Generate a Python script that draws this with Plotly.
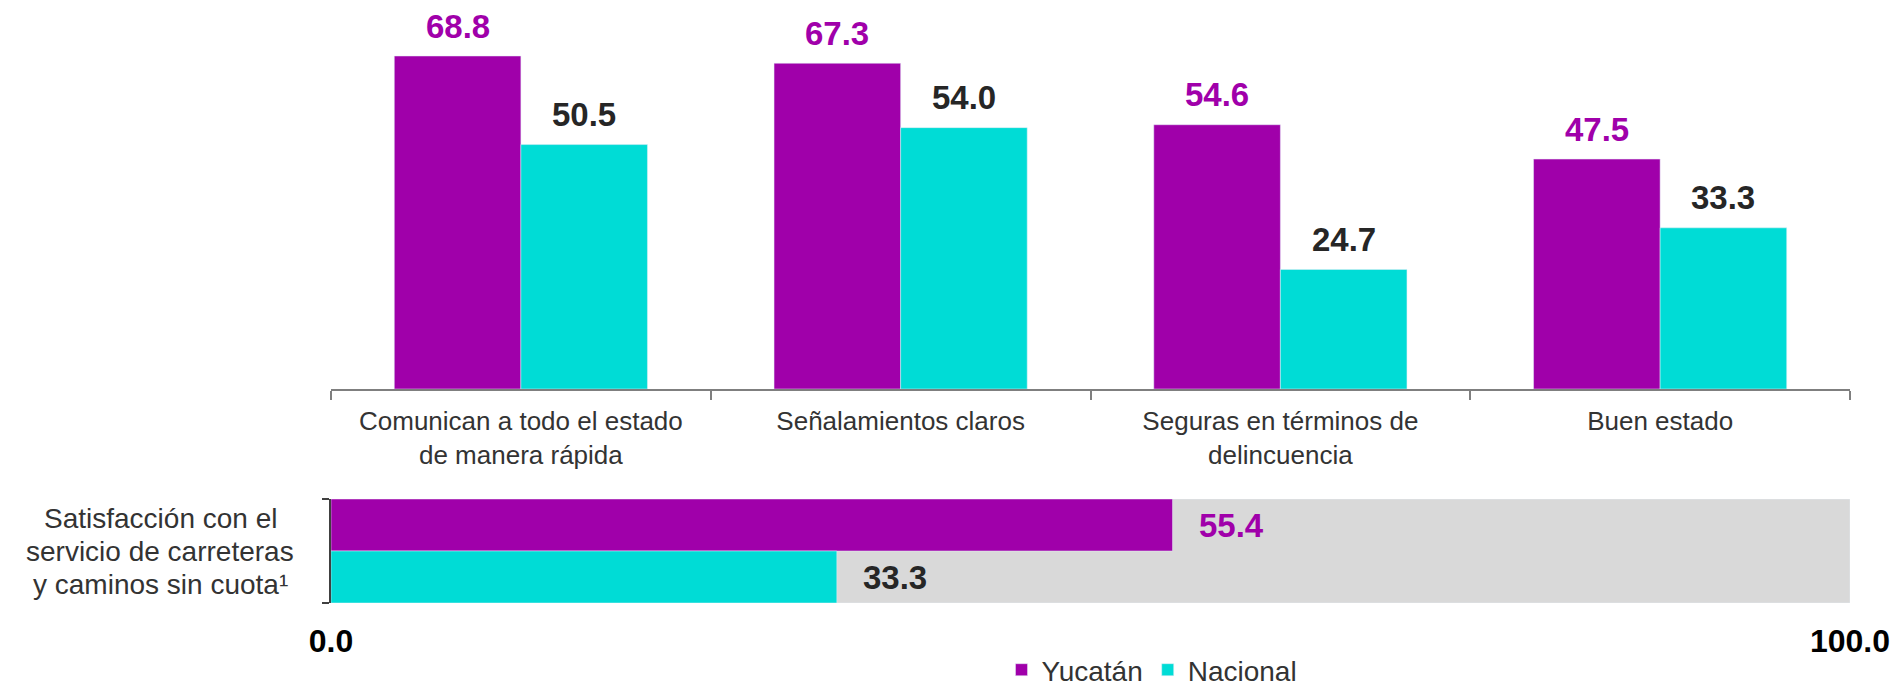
import plotly.graph_objects as go

# ---- data ----
categories = [
    "Comunican a todo el estado<br>de manera rápida",
    "Señalamientos claros",
    "Seguras en términos de<br>delincuencia",
    "Buen estado",
]
yucatan = [68.8, 67.3, 54.6, 47.5]
nacional = [50.5, 54.0, 24.7, 33.3]

sat_category = ["Satisfacción con el<br>servicio de carreteras<br>y caminos sin cuota¹"]
sat_yucatan = [55.4]
sat_nacional = [33.3]
sat_total = [100.0]
sat_ticks = [0, 100]
sat_ticktext = ["0.0", "100.0"]

series_names = ["Yucatán", "Nacional"]

PURPLE = "#A000AA"
CYAN = "#00DCD6"
GREY = "#D9D9D9"
DARK = "#262626"
TXT = "#333333"
FONT = "Liberation Sans, Arial, sans-serif"

# page body has an 8px margin: figure is placed at (8, 8)
OFF = 8
W, H = 1902 - OFF, 689 - OFF


def px_x(x):
    return (x - OFF) / W


def px_y(y):
    return (H - (y - OFF)) / H


fig = go.Figure()

# top grouped bars
fig.add_trace(go.Bar(x=categories, y=yucatan, name=series_names[0], marker_color=PURPLE,
                     offset=-1/3, width=1/3, xaxis="x", yaxis="y", hoverinfo="skip"))
fig.add_trace(go.Bar(x=categories, y=nacional, name=series_names[1], marker_color=CYAN,
                     offset=0, width=1/3, xaxis="x", yaxis="y", hoverinfo="skip"))

# bottom horizontal bars
fig.add_trace(go.Bar(y=sat_category, x=sat_total, orientation="h", marker_color=GREY,
                     offset=-0.5, width=1, xaxis="x2", yaxis="y2", showlegend=False, hoverinfo="skip"))
fig.add_trace(go.Bar(y=sat_category, x=sat_yucatan, orientation="h", marker_color=PURPLE,
                     offset=0, width=0.5, xaxis="x2", yaxis="y2", showlegend=False, hoverinfo="skip"))
fig.add_trace(go.Bar(y=sat_category, x=sat_nacional, orientation="h", marker_color=CYAN,
                     offset=-0.5, width=0.5, xaxis="x2", yaxis="y2", showlegend=False, hoverinfo="skip"))

annotations = []
for i, (yv, nv) in enumerate(zip(yucatan, nacional)):
    annotations.append(dict(x=i - 1/6, y=yv, xref="x", yref="y", text=f"{yv:.1f}",
                            showarrow=False, yanchor="middle", yshift=30,
                            font=dict(family=FONT, size=33, color=PURPLE, weight="bold")))
    annotations.append(dict(x=i + 1/6, y=nv, xref="x", yref="y", text=f"{nv:.1f}",
                            showarrow=False, yanchor="middle", yshift=30,
                            font=dict(family=FONT, size=33, color=DARK, weight="bold")))

annotations.append(dict(x=sat_yucatan[0], y=0.25, xref="x2", yref="y2", text=f"{sat_yucatan[0]:.1f}",
                        showarrow=False, xanchor="left", xshift=24,
                        font=dict(family=FONT, size=33, color=PURPLE, weight="bold")))
annotations.append(dict(x=sat_nacional[0], y=-0.25, xref="x2", yref="y2", text=f"{sat_nacional[0]:.1f}",
                        showarrow=False, xanchor="left", xshift=24,
                        font=dict(family=FONT, size=33, color=DARK, weight="bold")))

# category label of the bottom panel, one line per annotation to control line spacing
sat_lines = sat_category[0].split("<br>")
for k, line in enumerate(sat_lines):
    annotations.append(dict(x=px_x(160), y=0, xref="paper", yref="y2", text=line,
                            showarrow=False, xanchor="center", yanchor="middle",
                            yshift=0 + 33 * (len(sat_lines) // 2 - k),
                            font=dict(family=FONT, size=28, color=TXT)))

AX0 = 389  # top axis line (reference px)
PER = (AX0 - 56) / 68.8  # px per unit
TOP_RANGE = 75

fig.update_layout(
    width=W, height=H,
    margin=dict(l=0, r=0, t=0, b=0, autoexpand=False),
    paper_bgcolor="white", plot_bgcolor="white",
    barmode="overlay",
    font=dict(family=FONT, color=TXT),
    xaxis=dict(domain=[px_x(331), px_x(1850)], type="category", range=[-0.5, 3.5], automargin=False,
               showline=True, linecolor="#7F7F7F", linewidth=2,
               ticks="outside", tickson="boundaries", ticklen=9, tickcolor="#7F7F7F", tickwidth=2,
               ticklabelstandoff=8,
               tickfont=dict(family=FONT, size=26, color=TXT), showgrid=False, fixedrange=True),
    yaxis=dict(domain=[px_y(AX0), px_y(AX0 - TOP_RANGE * PER)], range=[0, TOP_RANGE], visible=False,
               automargin=False, fixedrange=True),
    xaxis2=dict(domain=[px_x(331), px_x(1850)], range=[0, 100], anchor="y2", automargin=False,
                tickvals=sat_ticks, ticktext=sat_ticktext, showline=False, showgrid=False, zeroline=False,
                ticks="outside", ticklen=10, tickcolor="rgba(0,0,0,0)",
                tickfont=dict(family=FONT, size=32, color="black", weight="bold"), fixedrange=True),
    yaxis2=dict(domain=[px_y(603), px_y(499)], type="category", range=[-0.5, 0.5], anchor="x2",
                automargin=False,
                showline=True, linecolor="#404040", linewidth=2, ticks="outside", tickson="boundaries",
                ticklen=7, tickcolor="#404040", tickwidth=2, showticklabels=False, showgrid=False,
                fixedrange=True),
    legend=dict(orientation="h", x=px_x(1152), xanchor="center", y=px_y(670), yanchor="middle",
                font=dict(family=FONT, size=28, color=TXT), bgcolor="rgba(0,0,0,0)",
                itemclick=False, itemdoubleclick=False),
    annotations=annotations,
)

fig.write_html("out.html")
